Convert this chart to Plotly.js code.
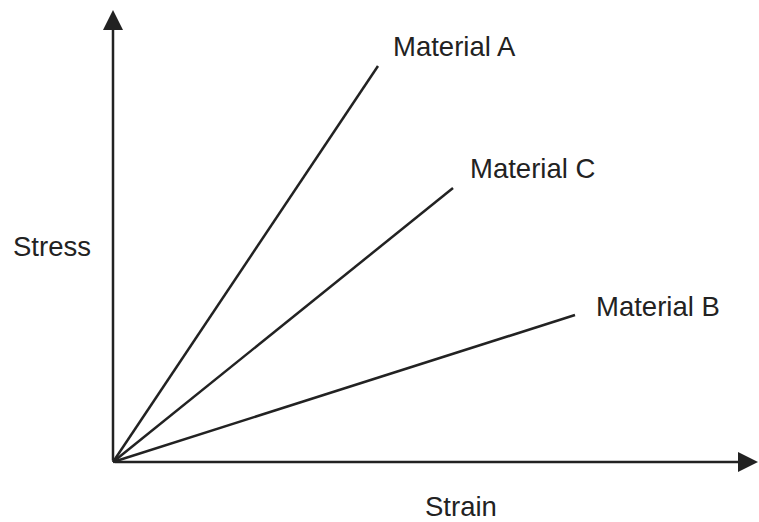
<!DOCTYPE html>
<html><head><meta charset="utf-8">
<script src="https://cdn.plot.ly/plotly-3.0.1.min.js"></script>
<style>html,body{margin:0;padding:0;background:#fff}#chart{width:759px;height:522px}</style>
</head><body><div id="chart"></div>
<script>
// Data (abstract units: strain, stress) — endpoints of each linear line from origin
var materials = ["Material A", "Material C", "Material B"];
var endStrain = [265, 340, 462];
var endStress = [396, 274, 147];
var xLabel = "Strain";
var yLabel = "Stress";

var traces = materials.map(function(m, i){
  return {x:[0, endStrain[i]], y:[0, endStress[i]], mode:"lines", name:m,
    line:{color:"#222", width:2.5}, hoverinfo:"skip", showlegend:false, cliponaxis:false};
});

var font = {family:"Liberation Sans, Arial, sans-serif", size:27.5, color:"#222"};
var labelPos = [[341,416],[419,294],[545,156]];
var annotations = materials.map(function(m,i){
  return {x:labelPos[i][0], y:labelPos[i][1], xref:"x", yref:"y", text:m, showarrow:false,
    font:font, xanchor:"center", yanchor:"middle"};
});
// axis arrows
annotations.push({x:0, y:452, ax:0, ay:0, xref:"x", yref:"y", axref:"x", ayref:"y",
  text:"", showarrow:true, arrowhead:2, arrowsize:1.6, arrowwidth:2.5, arrowcolor:"#222"});
annotations.push({x:645, y:0, ax:0, ay:0, xref:"x", yref:"y", axref:"x", ayref:"y",
  text:"", showarrow:true, arrowhead:2, arrowsize:1.6, arrowwidth:2.5, arrowcolor:"#222"});
annotations.push({x:-61, y:216, xref:"x", yref:"y", text:yLabel, showarrow:false, font:font});
annotations.push({x:348, y:-44, xref:"x", yref:"y", text:xLabel, showarrow:false, font:font});

var layout = {
  width:759, height:522, margin:{l:0,r:0,t:0,b:0},
  paper_bgcolor:"#fff", plot_bgcolor:"#fff",
  xaxis:{range:[-113,646], visible:false, fixedrange:true},
  yaxis:{range:[-60,462], visible:false, fixedrange:true},
  annotations:annotations, showlegend:false
};
Plotly.newPlot("chart", traces, layout, {displayModeBar:false, staticPlot:true});
</script></body></html>
